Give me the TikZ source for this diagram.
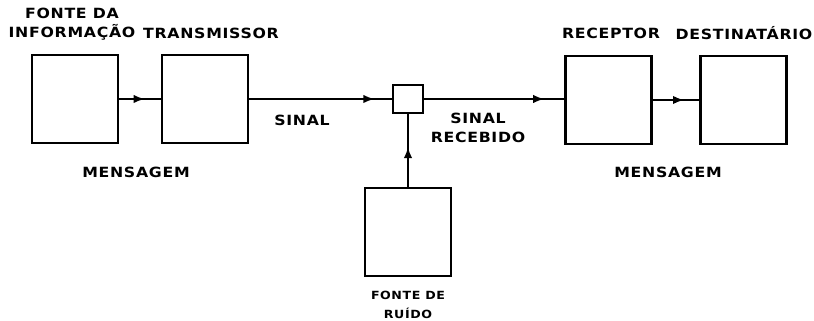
\documentclass[tikz,border=0pt]{standalone}
\usepackage{fontspec}
\usetikzlibrary{arrows.meta}
\usetikzlibrary{decorations.markings}
\newfontfamily\blockfont[FakeStretch=1.12,LetterSpace=5]{DejaVu Sans}

\tikzset{
    bloco/.style={draw, line width=2.1pt, minimum width=2.15cm, minimum height=2.2cm, inner sep=0pt},
    rotulo/.style={font=\blockfont\bfseries\fontsize{10}{13.5}\selectfont, inner sep=0pt, align=center},
    fluxo/.style={line width=1.6pt, postaction={decorate},
        decoration={markings, mark=at position #1 with {\arrow{Latex[length=8pt,width=6pt]}}}}
}

\begin{document}
\begin{tikzpicture}[x=0.025cm, y=0.025cm]
    \useasboundingbox (0, 0) rectangle (814, 321);

    % blocos
    \node[bloco] (fonte) at (75, 222) {};
    \node[bloco] (trans) at (205, 222) {};
    \node[draw, line width=1.8pt, minimum width=0.75cm, minimum height=0.7cm, inner sep=0pt] (soma) at (408, 222) {};
    \node[bloco] (recep) at (608.5, 221) {};
    \node[bloco] (dest) at (743.5, 221) {};
    \node[bloco] (ruido) at (408, 89) {};

    % ligacoes
    \draw[fluxo=0.62] (fonte.east) -- (trans.west);
    \draw[fluxo=0.88] (trans.east) -- (soma.west);
    \draw[fluxo=0.86] (soma.east) -- (recep.west |- soma.east);
    \draw[fluxo=0.68] (recep.east) -- (dest.west);
    \draw[fluxo=0.55] (ruido.north) -- (soma.south);

    % textos
    \node[rotulo] (tfonte) at (72, 297) {FONTE DA\\INFORMAÇÃO};
    \node[rotulo] (ttrans) at (211, 288) {TRANSMISSOR};
    \node[rotulo] (tmsg1) at (136, 149) {MENSAGEM};
    \node[rotulo] (tsinal) at (302, 201) {SINAL};
    \node[rotulo] (trec) at (478, 193) {SINAL\\RECEBIDO};
    \node[rotulo] (trecep) at (611, 288) {RECEPTOR};
    \node[rotulo] (tdest) at (744, 288) {DESTINATÁRIO};
    \node[rotulo] (tmsg2) at (668, 149) {MENSAGEM};
    \node[rotulo, font=\blockfont\bfseries\fontsize{8}{14}\selectfont] (truido) at (408, 16) {FONTE DE\\RUÍDO};
\end{tikzpicture}
\end{document}
